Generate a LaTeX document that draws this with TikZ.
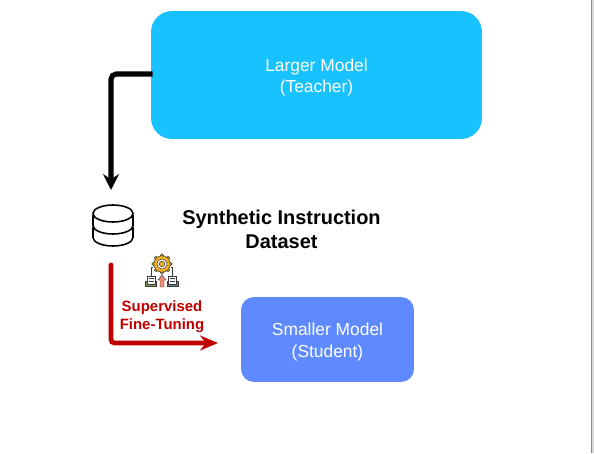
\documentclass[tikz,border=0pt]{standalone}
\usepackage{fontspec}
\setmainfont{Liberation Sans}
\usetikzlibrary{arrows.meta, positioning, calc}
\definecolor{teacherblue}{HTML}{17C2FF}
\definecolor{studentblue}{HTML}{5F8AFF}
\definecolor{finered}{HTML}{C00000}
\definecolor{geargold}{HTML}{F2B01E}
\definecolor{bookgreen}{HTML}{7FA650}
\definecolor{bookteal}{HTML}{4F8F86}
\definecolor{upsalmon}{HTML}{F08A78}
\definecolor{iconline}{HTML}{3A3A3A}
\colorlet{edgemid}{black!45}
\colorlet{edgelight}{black!15}

\begin{document}
\begin{tikzpicture}[
    x=0.02cm, y=-0.02cm,
    font=\fontsize{9.9}{12.5}\selectfont,
    modelbox/.style={align=center, text=white, inner sep=0pt},
    dsetlabel/.style={align=center, font=\fontsize{11.35}{13.3}\selectfont\bfseries},
    tunelabel/.style={align=center, text=finered, font=\fontsize{8.5}{10.2}\selectfont\bfseries},
    teacherarr/.style={-{Stealth[length=16*0.567pt, width=16*0.567pt]}, line width=2.9pt, rounded corners=3pt},
    tunearr/.style={-{Stealth[length=18*0.567pt, width=15*0.567pt]}, line width=2.7pt, finered, rounded corners=2pt, line cap=round},
    dbline/.style={line width=0.9pt, draw=black, fill=white},
    iconwire/.style={line width=0.35pt, draw=iconline},
]
\useasboundingbox (0,0) rectangle (594,453);

% ── page edge ──
\fill[edgelight] (592,0) rectangle (594,453);
\fill[edgemid] (591,0) rectangle (592,453);

% ── models ──
\node[modelbox, fill=teacherblue, rounded corners=0.42cm, minimum width=6.62cm, minimum height=2.56cm]
    (teacher) at (316.5,75) {\rule{0pt}{10pt}Larger Model\\(Teacher)};
\node[modelbox, fill=studentblue, rounded corners=0.26cm, minimum width=3.46cm, minimum height=1.7cm]
    (student) at (327.5,339.5) {\rule{0pt}{10pt}Smaller Model\\(Student)};

% ── dataset label ──
\node[dsetlabel] (dset) at (281.5,229.5) {Synthetic Instruction\\Dataset};
\node[tunelabel] (tune) at (162,317) {Supervised\\Fine-Tuning};

% ── free ends of the connectors ──
\coordinate (dbtop) at (111,190);
\coordinate (tunestart) at (111,265);
\coordinate (tunecorner) at (111,343);
\coordinate (tuneend) at (218,343);

\draw[teacherarr] ($(teacher.west)+(2,-1)$) -| (dbtop);
\draw[tunearr] (tunestart) -- (tunecorner) -- (tuneend);

% ── database icon ──
\draw[dbline] (93,228) -- (93,237.5) arc[start angle=180, end angle=360, x radius=20, y radius=-8.5] -- (133,228) -- cycle;
\draw[dbline] (93,216) -- (93,225.5) arc[start angle=180, end angle=360, x radius=20, y radius=-8.5] -- (133,216) -- cycle;
\draw[dbline] (113,213.5) ellipse[x radius=20, y radius=8.5];

% ── tuning icon ──
\draw[iconwire] (151,276) -- (151,267) -- (153,267);
\draw[iconwire] (172.5,276) -- (172.5,267) -- (171,267);
\foreach \a in {0,45,...,315}
    \fill[geargold, draw=iconline, line width=0.3pt] (162,264) ++(\a:-8.5) circle[radius=1.8];
\fill[geargold, draw=iconline, line width=0.3pt] (162,264) circle[radius=8.2];
\fill[white, draw=iconline, line width=0.3pt] (162,264) circle[radius=5];
\fill[geargold, draw=iconline, line width=0.3pt] (162,264) circle[radius=2.8];
\foreach \x/\c in {151/bookgreen, 172.5/bookteal} {
    \fill[\c, draw=iconline, line width=0.3pt] (\x-5.5,281) rectangle (\x+5.5,286.5);
    \fill[white, draw=iconline, line width=0.3pt] (\x-4,276) rectangle (\x+4,284);
    \draw[iconwire] (\x-2.5,278.5) -- (\x+2.5,278.5) (\x-2.5,281) -- (\x+2.5,281);
}
\fill[upsalmon, draw=iconline, line width=0.25pt] (160,287) -- (160,280) -- (158,280) -- (162,275) -- (166,280) -- (164,280) -- (164,287) -- cycle;
\end{tikzpicture}
\end{document}
